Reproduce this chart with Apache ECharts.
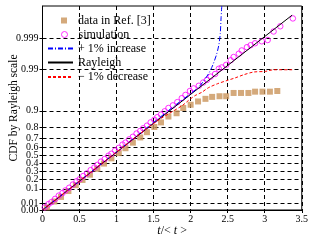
<!DOCTYPE html>
<html><head><meta charset="utf-8">
<script src="https://cdn.jsdelivr.net/npm/echarts@6/dist/echarts.min.js"></script>
<style>html,body{margin:0;padding:0;background:#fff}#c{width:311px;height:248px}</style>
</head><body><div id="c"></div>
<script>
// ---- data (y values in Rayleigh-scale units, i.e. sqrt(-ln(1-CDF))) ----
const refX = [0.06,0.16,0.25,0.35,0.45,0.54,0.64,0.74,0.83,0.93,1.03,1.12,1.22,1.32,1.41,1.51,1.60,1.70,1.81,1.90,2.00,2.10,2.20,2.29,2.39,2.48,2.58,2.68,2.78,2.87,2.97,3.07,3.17];
const refY = [0.04,0.13,0.20,0.29,0.38,0.46,0.54,0.63,0.71,0.79,0.87,0.945,1.03,1.11,1.19,1.27,1.34,1.43,1.48,1.56,1.61,1.66,1.70,1.73,1.74,1.74,1.79,1.79,1.79,1.81,1.81,1.81,1.82];

const simX = [0.03,0.08,0.12,0.17,0.22,0.27,0.31,0.36,0.41,0.46,0.50,0.55,0.60,0.65,0.70,0.74,0.79,0.84,0.89,0.93,0.98,1.03,1.08,1.12,1.17,1.22,1.27,1.32,1.36,1.41,1.46,1.51,1.55,1.60,1.65,1.70,1.76,1.82,1.88,1.93,1.99,2.04,2.11,2.17,2.22,2.27,2.33,2.38,2.42,2.48,2.54,2.58,2.65,2.69,2.76,2.81,2.87,2.96,3.04,3.12,3.21,3.38];
const simY = [0.04,0.09,0.12,0.17,0.22,0.26,0.30,0.34,0.39,0.44,0.47,0.52,0.56,0.61,0.65,0.69,0.74,0.78,0.83,0.86,0.91,0.95,1.00,1.03,1.08,1.12,1.17,1.21,1.25,1.29,1.34,1.38,1.42,1.46,1.51,1.56,1.60,1.65,1.71,1.76,1.82,1.86,1.90,1.95,1.99,2.04,2.08,2.16,2.18,2.22,2.29,2.34,2.39,2.44,2.49,2.52,2.55,2.58,2.60,2.73,2.81,2.93];

const incX = [0,1.0,1.5,1.8,2.1,2.18,2.25,2.30,2.35,2.38,2.40,2.41,2.42];
const incY = [0,0.89,1.34,1.61,1.87,1.98,2.10,2.22,2.38,2.52,2.70,2.92,3.12];

const rayX = [0,3.37];
const rayY = [0,2.98];

const decX = [0,1.4,1.6,1.89,1.97,2.06,2.15,2.24,2.36,2.49,2.60,2.72,2.85,3.01,3.12,3.38];
const decY = [0,1.24,1.40,1.60,1.675,1.75,1.80,1.87,1.93,1.98,2.02,2.07,2.11,2.12,2.145,2.145];

const yTickProbs  = [0,0.01,0.1,0.2,0.3,0.4,0.5,0.6,0.7,0.8,0.9,0.99,0.999];
const yTickLabels = ['0.00','0.01','0.1','0.2','0.3','0.4','0.5','0.6','0.7','0.8','0.9','0.99','0.999'];

const names = ['data in Ref. [3]','simulation','+ 1% increase','Rayleigh','\u2212 1% decrease'];

// ---- build ----
const serif = "'Liberation Serif','Times New Roman',serif";
const rayScale = p => Math.sqrt(-Math.log(1 - p));
const yTickPos = yTickProbs.map(rayScale);
const pairs = (xs, ys) => xs.map((x, i) => [x, ys[i]]);
const yFmt = v => {
  for (let i = 0; i < yTickPos.length; i++) if (Math.abs(yTickPos[i] - v) < 1e-6) return yTickLabels[i];
  return '';
};
const lgText = {fontFamily: serif, fontSize: 12, color: '#000'};
const lgTextPad = {fontFamily: serif, fontSize: 12, color: '#000',
  rich: {p: {fontFamily: serif, fontSize: 12, color: '#000', padding: [0, 0, 0, 6]}}};
const lineLegend = (name, top) => ({data: [name], left: 47, top: top, padding: 0, itemWidth: 25, itemHeight: 12,
  textStyle: lgText, itemStyle: {opacity: 0}});
const labelStyle = {formatter: yFmt, showMinLabel: true, showMaxLabel: true, hideOverlap: false, margin: 4, fontFamily: serif, fontSize: 10, color: '#000'};
const chart = echarts.init(document.getElementById('c'), null, {renderer: 'canvas'});
chart.setOption({
  animation: false,
  backgroundColor: '#fff',
  grid: {left: 42, right: 9, top: 6, bottom: 38, show: true, borderColor: '#000', borderWidth: 1, backgroundColor: 'transparent'},
  legend: [
    {data: [names[0]], left: 61, top: 14.5, padding: 0, itemWidth: 6, itemHeight: 6, formatter: '{p|{name}}', textStyle: lgTextPad},
    {data: [names[1]], left: 61, top: 28.5, padding: 0, itemWidth: 6, itemHeight: 6, formatter: '{p|{name}}', textStyle: lgTextPad,
     itemStyle: {borderWidth: 1, color: 'rgba(255,255,255,0)', borderColor: '#FF00FF'}},
    lineLegend(names[2], 42.5),
    lineLegend(names[3], 56.5),
    lineLegend(names[4], 71)
  ],
  xAxis: {
    type: 'value', min: 0, max: 3.5, interval: 0.5,
    axisLine: {show: true, lineStyle: {color: '#000', width: 1}},
    axisTick: {show: true, inside: false, length: 3, lineStyle: {color: '#000'}},
    axisLabel: {margin: 4, fontFamily: serif, fontSize: 10, color: '#000'},
    splitLine: {show: true, lineStyle: {color: '#000', type: [4, 3], width: 1}},
    name: '{i|t}/< {i|t} >', nameLocation: 'middle', nameGap: 14.5, nameMoveOverlap: false,
    nameTextStyle: {fontFamily: serif, fontSize: 12, color: '#000', rich: {i: {fontFamily: serif, fontSize: 12, fontStyle: 'italic', color: '#000'}}}
  },
  yAxis: [{
    type: 'value', min: 0, max: 3.12,
    axisLine: {show: true, lineStyle: {color: '#000', width: 1}},
    axisTick: {show: true, inside: false, length: 3, customValues: yTickPos, lineStyle: {color: '#000'}},
    axisLabel: Object.assign({customValues: yTickPos.slice(1)}, labelStyle),
    splitLine: {show: true, lineStyle: {color: '#000', type: [4, 3], width: 1}},
    name: 'CDF by Rayleigh scale', nameLocation: 'middle', nameGap: 22.5, nameMoveOverlap: false,
    nameTextStyle: {fontFamily: serif, fontSize: 11.5, color: '#000'}
  }, {
    type: 'value', min: 0, max: 3.12, position: 'left', offset: 0,
    axisLine: {show: false}, axisTick: {show: false}, splitLine: {show: false},
    axisLabel: Object.assign({customValues: yTickPos.slice(0, 1)}, labelStyle)
  }],
  series: [
    {name: names[0], type: 'scatter', data: pairs(refX, refY), symbol: 'rect', symbolSize: 6,
     itemStyle: {color: '#C9935A'}, z: 2},
    {name: names[1], type: 'scatter', data: pairs(simX, simY), symbol: 'circle', symbolSize: 5.5,
     itemStyle: {color: 'rgba(255,255,255,0)', borderColor: '#FF00FF', borderWidth: 1}, z: 3},
    {name: names[3], type: 'line', data: pairs(rayX, rayY), symbol: 'none',
     lineStyle: {color: '#000', width: 1, type: 'solid'}, itemStyle: {color: '#000'}, z: 4},
    {name: names[2], type: 'line', data: pairs(incX, incY), symbol: 'none', smooth: 0.3,
     lineStyle: {color: '#0000FF', width: 1, type: [5, 2, 1, 2]}, itemStyle: {color: '#0000FF'}, z: 5},
    {name: names[4], type: 'line', data: pairs(decX, decY), symbol: 'none', smooth: 0.3,
     lineStyle: {color: '#FF0000', width: 1, type: [3, 2]}, itemStyle: {color: '#FF0000'}, z: 5}
  ]
});
</script></body></html>
